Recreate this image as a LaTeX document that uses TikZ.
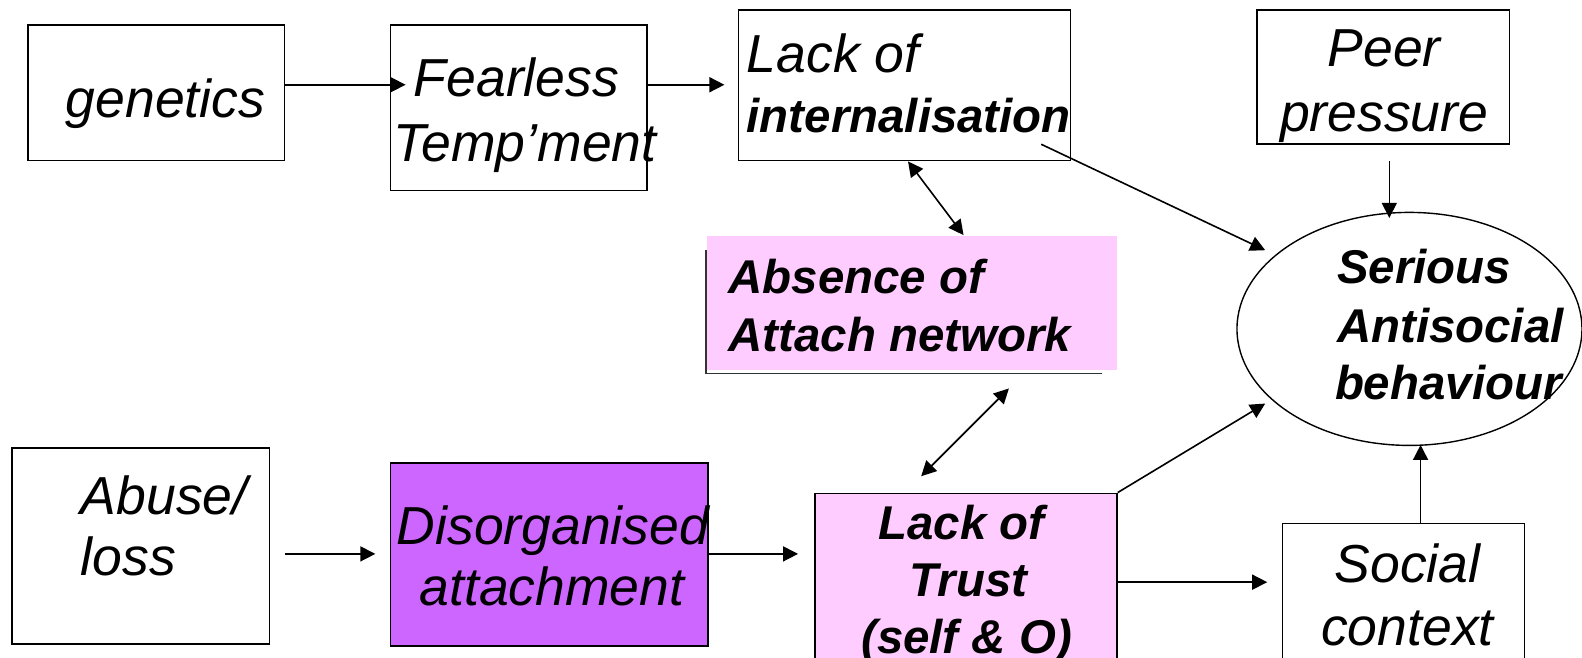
\documentclass[tikz,border=0pt]{standalone}
\usepackage{fontspec}
\setmainfont{Liberation Sans}
\usetikzlibrary{arrows.meta,shapes.geometric,fit}
\definecolor{lpink}{HTML}{FFCCFF}
\definecolor{lpurple}{HTML}{CC66FF}
\begin{document}
\begin{tikzpicture}[x=1.00893pt,y=-1.00893pt,
  box/.style={draw, line width=1.6pt, inner sep=0pt},
  rt/.style={font=\fontsize{53.5}{60}\selectfont\itshape, inner sep=0pt, anchor=base west},
  rtc/.style={rt, anchor=base},
  bt/.style={font=\fontsize{47.4}{55}\selectfont\bfseries\itshape, inner sep=0pt, anchor=base west},
  btc/.style={bt, anchor=base},
  tip/.tip={Triangle[length=15pt,width=15pt]},
  arr/.style={line width=1.6pt, -tip},
  darr/.style={line width=1.6pt, tip-tip}]
\useasboundingbox (0,0) rectangle (1568,652);
% boxes
\node[box, fit={(28,25) (282,159)}] (gen) {};
\node[box, fit={(387,25) (641,189)}] (fear) {};
\node[box, fit={(732,10) (1061,159)}] (lint) {};
\node[box, fit={(1246,10) (1496,143)}] (peer) {};
\draw[line width=1.6pt, black!80] (700,248) -- (700,370) -- (1092,370);
\node[fill=lpink, inner sep=0pt, fit={(701,234) (1107,367)}] (absn) {};
\node[draw, line width=1.4pt, ellipse, inner sep=0pt, minimum width=345pt, minimum height=233pt] (asb) at (1397,326) {};
\node[box, fit={(12,444) (267,638)}] (abuse) {};
\node[box, fill=lpurple, fit={(387,459) (702,640)}] (disorg) {};
\node[box, fill=lpink, fit={(808,489) (1107,700)}] (trust) {};
\node[box, fit={(1271,519) (1511,700)}] (social) {};
% texts
\node[rt] (t1) at (65,116) {genetics};
\node[rt] (t2) at (410,96) {Fearless};
\node[rt] (t3) at (390,160) {Temp’ment};
\node[rt] (t4) at (740,72) {Lack of};
\node[bt] (t5) at (740,131) {internalisation};
\node[rtc] (t6) at (1372,66) {Peer};
\node[rtc] (t7) at (1372,130) {pressure};
\node[bt] (t8) at (722,291) {Absence of};
\node[bt] (t9) at (722,348) {Attach network};
\node[bt] (t10) at (1325,281) {Serious};
\node[bt] (t11) at (1325,339) {Antisocial};
\node[bt] (t12) at (1323,396) {behaviour};
\node[rt] (t13) at (80,510) {Abuse/};
\node[rt] (t14) at (80,570) {loss};
\node[rtc] (t15) at (548,540) {Disorganised};
\node[rtc] (t16) at (547,600) {attachment};
\node[btc] (t17) at (953,535) {Lack of};
\node[btc] (t18) at (960,591) {Trust};
\node[btc] (t19) at (958,648) {(self \& O)};
\node[rtc] (t20) at (1395,577) {Social};
\node[rtc] (t21) at (1395,640) {context};
% connector ends
\coordinate (g1) at (gen.east |- 0,84);
\coordinate (f0) at (402,84);
\coordinate (f1) at (fear.east |- 0,84);
\coordinate (l0) at (718,84);
\coordinate (l1) at (900,160);
\coordinate (b0) at (955,233);
\coordinate (l2) at (1032,143);
\coordinate (s0) at (1254,248);
\coordinate (p1) at (1377,160);
\coordinate (s1) at (1377,216);
\coordinate (b1) at (1000,385);
\coordinate (tr0) at (913,472);
\coordinate (s2) at (1254,400);
\coordinate (tr2) at (trust.east |- 0,577);
\coordinate (so0) at (1256,577);
\coordinate (so1) at (1408,519);
\coordinate (s3) at (1408,441);
\coordinate (a1) at (282,549);
\coordinate (d0) at (372,549);
\coordinate (d1) at (disorg.east |- 0,549);
\coordinate (tr1) at (791,549);
% connectors
\draw[arr] (g1) -- (f0);
\draw[arr] (f1) -- (l0);
\draw[darr] (l1) -- (b0);
\draw[arr] (l2) -- (s0);
\draw[arr] (p1) -- (s1);
\draw[darr] (b1) -- (tr0);
\draw[arr] (trust.north east) -- (s2);
\draw[arr] (tr2) -- (so0);
\draw[arr] (so1) -- (s3);
\draw[arr] (a1) -- (d0);
\draw[arr] (d1) -- (tr1);
\end{tikzpicture}
\end{document}
